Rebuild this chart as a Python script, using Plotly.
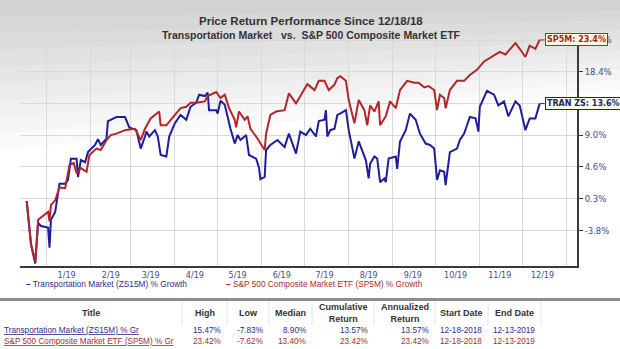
import math
from datetime import date
import plotly.graph_objects as go

W, H = 620, 349

# ---- series: % growth since 12/18/18 -------------------------------------
TRAN_DATES = [
    "2018-12-18", "2018-12-21", "2018-12-24", "2018-12-26", "2018-12-28",
    "2019-01-02", "2019-01-03", "2019-01-04", "2019-01-07", "2019-01-10",
    "2019-01-14", "2019-01-16", "2019-01-18", "2019-01-22", "2019-01-23",
    "2019-01-25", "2019-01-28", "2019-01-30", "2019-02-04", "2019-02-06",
    "2019-02-08", "2019-02-12", "2019-02-13", "2019-02-19", "2019-02-25",
    "2019-02-28", "2019-03-05", "2019-03-08", "2019-03-11", "2019-03-12",
    "2019-03-14", "2019-03-18", "2019-03-20", "2019-03-22", "2019-03-26",
    "2019-03-28", "2019-04-01", "2019-04-05", "2019-04-09", "2019-04-12",
    "2019-04-16", "2019-04-18", "2019-04-22", "2019-04-24", "2019-04-25",
    "2019-04-30", "2019-05-01", "2019-05-03", "2019-05-06", "2019-05-09",
    "2019-05-10", "2019-05-13", "2019-05-15", "2019-05-17", "2019-05-21",
    "2019-05-23", "2019-05-28", "2019-05-30", "2019-05-31", "2019-06-03",
    "2019-06-04", "2019-06-07", "2019-06-12", "2019-06-17", "2019-06-20",
    "2019-06-25", "2019-06-28", "2019-07-02", "2019-07-05", "2019-07-09",
    "2019-07-11", "2019-07-15", "2019-07-16", "2019-07-17", "2019-07-19",
    "2019-07-22", "2019-07-24", "2019-07-26", "2019-07-30", "2019-08-01",
    "2019-08-05", "2019-08-08", "2019-08-12", "2019-08-13", "2019-08-15",
    "2019-08-16", "2019-08-19", "2019-08-21", "2019-08-23", "2019-08-26",
    "2019-08-27", "2019-08-29", "2019-09-03", "2019-09-04", "2019-09-06",
    "2019-09-10", "2019-09-13", "2019-09-17", "2019-09-20", "2019-09-24",
    "2019-09-27", "2019-09-30", "2019-10-02", "2019-10-04", "2019-10-07",
    "2019-10-08", "2019-10-11", "2019-10-16", "2019-10-18", "2019-10-21",
    "2019-10-23", "2019-10-25", "2019-10-29", "2019-10-31", "2019-11-01",
    "2019-11-06", "2019-11-11", "2019-11-14", "2019-11-18", "2019-11-21",
    "2019-11-26", "2019-11-29", "2019-12-03", "2019-12-06", "2019-12-10",
    "2019-12-13",
]
TRAN_GROWTH = [
    0.0, -5.5, -7.83, -2.8, -3.2,
    -3.4, -5.9, -2.4, -1.4, 2.3,
    2.3, 2.8, 5.7, 5.7, 3.2,
    5.5, 5.2, 6.6, 7.6, 8.4,
    7.6, 8.5, 11.0, 11.6, 11.6,
    10.1, 9.7, 7.1, 8.8, 9.5,
    8.8, 9.7, 8.8, 6.2, 6.0,
    8.8, 10.7, 11.9, 11.2, 13.1,
    13.7, 14.9, 14.7, 15.2, 12.6,
    12.6, 12.1, 14.0, 13.4, 10.7,
    9.9, 7.8, 9.0, 8.3, 9.0,
    6.2, 5.7, 4.5, 2.9, 3.2,
    6.9, 7.6, 8.3, 7.3, 9.2,
    6.4, 9.5, 9.0, 9.9, 8.8,
    11.0, 11.2, 12.6, 8.8, 9.7,
    9.9, 11.9, 12.1, 12.6, 9.7,
    5.7, 8.1, 6.2, 5.5, 3.0,
    5.0, 6.0, 5.7, 2.5, 3.0,
    2.5, 5.7, 6.0, 4.3, 8.1,
    9.7, 12.1, 11.2, 9.2, 7.8,
    7.6, 7.1, 2.8, 4.1, 3.9,
    2.1, 6.6, 7.1, 8.3, 9.2,
    10.4, 11.6, 11.4, 9.5, 13.1,
    15.47, 14.9, 13.3, 13.9, 11.7,
    13.9, 13.3, 9.7, 11.4, 11.4,
    13.57,
]

SP5M_DATES = [
    "2018-12-18", "2018-12-21", "2018-12-24", "2018-12-26", "2019-01-02",
    "2019-01-03", "2019-01-04", "2019-01-07", "2019-01-10", "2019-01-14",
    "2019-01-17", "2019-01-20", "2019-01-22", "2019-01-25", "2019-01-29",
    "2019-01-31", "2019-02-05", "2019-02-08", "2019-02-12", "2019-02-15",
    "2019-02-19", "2019-02-25", "2019-02-28", "2019-03-04", "2019-03-08",
    "2019-03-11", "2019-03-15", "2019-03-21", "2019-03-22", "2019-03-26",
    "2019-04-01", "2019-04-05", "2019-04-09", "2019-04-12", "2019-04-16",
    "2019-04-22", "2019-04-24", "2019-04-29", "2019-04-30", "2019-05-03",
    "2019-05-06", "2019-05-09", "2019-05-13", "2019-05-14", "2019-05-16",
    "2019-05-20", "2019-05-22", "2019-05-24", "2019-05-28", "2019-06-03",
    "2019-06-04", "2019-06-07", "2019-06-11", "2019-06-17", "2019-06-20",
    "2019-06-25", "2019-06-28", "2019-07-03", "2019-07-08", "2019-07-11",
    "2019-07-15", "2019-07-18", "2019-07-22", "2019-07-24", "2019-07-26",
    "2019-07-30", "2019-08-01", "2019-08-05", "2019-08-08", "2019-08-12",
    "2019-08-14", "2019-08-16", "2019-08-19", "2019-08-22", "2019-08-23",
    "2019-08-27", "2019-08-30", "2019-09-03", "2019-09-06", "2019-09-11",
    "2019-09-16", "2019-09-19", "2019-09-23", "2019-09-26", "2019-09-30",
    "2019-10-02", "2019-10-04", "2019-10-07", "2019-10-08", "2019-10-11",
    "2019-10-16", "2019-10-21", "2019-10-25", "2019-10-30", "2019-11-04",
    "2019-11-08", "2019-11-15", "2019-11-19", "2019-11-22", "2019-11-26",
    "2019-11-29", "2019-12-03", "2019-12-06", "2019-12-10", "2019-12-13",
]
SP5M_GROWTH = [
    0.0, -5.4, -7.62, -2.4, -1.4,
    -2.6, -0.5, 0.1, 1.8, 1.7,
    4.8, 5.1, 3.7, 4.4, 3.9,
    6.2, 7.1, 6.9, 8.3, 9.0,
    9.2, 9.7, 9.8, 9.9, 8.3,
    9.9, 11.4, 12.4, 10.4, 10.4,
    11.9, 12.9, 13.1, 13.7, 13.7,
    13.9, 14.7, 15.3, 15.3, 14.4,
    14.9, 12.9, 11.2, 10.1, 12.4,
    11.2, 11.7, 9.9, 8.8, 6.9,
    9.2, 11.9, 12.4, 12.6, 15.1,
    13.6, 14.7, 16.5, 15.6, 17.0,
    17.0, 15.6, 16.4, 17.4, 17.7,
    17.0, 14.1, 10.7, 14.1, 12.6,
    10.4, 13.3, 12.4, 13.9, 10.4,
    11.7, 13.9, 12.9, 15.6, 17.0,
    16.7, 16.7, 16.0, 16.2, 15.6,
    12.6, 14.9, 14.4, 12.9, 15.6,
    17.0, 17.0, 17.9, 18.7, 20.0,
    20.5, 21.5, 21.1, 21.9, 22.9,
    22.0, 20.7, 22.5, 22.0, 23.42,
]

# ---- axis labels ------------------------------------------------------------
Y_TICK_LABELS = ["-3.8%", "0.3%", "4.6%", "9.0%", "13.6%", "18.4%", "23.4%"]
MONTH_LABELS = ["1/19", "2/19", "3/19", "4/19", "5/19", "6/19",
                "7/19", "8/19", "9/19", "10/19", "11/19", "12/19"]

TITLE_LINE1 = "Price Return Performance Since 12/18/18"
TITLE_LINE2 = "Transportation Market \u00a0\u00a0vs. \u00a0S&P 500 Composite Market ETF"
LEGEND_TEXT = ["Transportation Market (ZS15M) % Growth",
               "S&P 500 Composite Market ETF (SP5M) % Growth"]
END_TAGS = ["TRAN ZS", "SP5M"]

# ---- summary table ------------------------------------------------------------
TABLE_HEADERS = ["Title", "High", "Low", "Median", "Cumulative<br>Return",
                 "Annualized<br>Return", "Start Date", "End Date"]
TABLE_TITLES = ["Transportation Market (ZS15M) % Gr",
                "S&P 500 Composite Market ETF (SP5M) % Gr"]
TABLE_MEDIAN = ["8.90%", "13.40%"]
TABLE_ANNUALIZED = ["13.57%", "23.42%"]
TABLE_START = ["12-18-2018", "12-18-2018"]
TABLE_END = ["12-13-2019", "12-13-2019"]

BLUE = "#1e1e9a"
RED = "#b2262a"
BLUE_TXT = "#2e2e8a"
RED_TXT = "#a3302c"
GRID = "#d9d9d9"
AXIS = "#3a3a3a"
TICK_TXT = "#484c7c"

# plot box in pixels
PL, PR, PT, PB = 20, 577, 36, 266


def fx(px):
    return px / W


def fy(py):
    return 1 - py / H


def idx(g):
    return 1 + g / 100.0


fig = go.Figure()
fig.add_trace(go.Scatter(
    x=TRAN_DATES, y=[idx(g) for g in TRAN_GROWTH], mode="lines",
    line=dict(color=BLUE, width=2), name=LEGEND_TEXT[0]))
fig.add_trace(go.Scatter(
    x=SP5M_DATES, y=[idx(g) for g in SP5M_GROWTH], mode="lines",
    line=dict(color=RED, width=2), name=LEGEND_TEXT[1]))

month_starts = [date(2019, m, 1) for m in range(1, 13)] + [date(2020, 1, 1)]
mid_months = [date(2019, m, 15) for m in range(1, 13)]
y_ticks = [idx(float(t.rstrip("%"))) for t in Y_TICK_LABELS]

shapes = []
# soft grey wash fading down from the top edge
n_layers = 9
for k in range(1, n_layers + 1):
    yl, yr = 150 * k / n_layers, 90 * k / n_layers
    shapes.append(dict(
        type="path", xref="paper", yref="paper", layer="below",
        path=f"M 0 1 L 1 1 L 1 {fy(yr):.4f} L 0 {fy(yl):.4f} Z",
        fillcolor="rgba(0,0,0,0.018)", line=dict(width=0)))

annotations = []
# title
annotations.append(dict(text=f"<b>{TITLE_LINE1}</b>", x=fx(311), y=fy(13),
                        xref="paper", yref="paper", showarrow=False,
                        font=dict(family="Liberation Sans", size=11.5, color="#333")))
annotations.append(dict(text=f"<b>{TITLE_LINE2}</b>", x=fx(312), y=fy(27.5),
                        xref="paper", yref="paper", showarrow=False,
                        font=dict(family="Liberation Sans", size=10.5, color="#333")))

# end-of-series value tags
for name, dates, growth, color, txt in [
        (END_TAGS[0], TRAN_DATES, TRAN_GROWTH, BLUE, "#23236e"),
        (END_TAGS[1], SP5M_DATES, SP5M_GROWTH, RED, "#9c1f1f")]:
    annotations.append(dict(
        x=dates[-1], y=math.log10(idx(growth[-1])), xref="x", yref="y",
        text=f"<b>{name}: {growth[-1]:.1f}%</b>", showarrow=True,
        arrowhead=0, arrowwidth=1, arrowcolor=color, ax=5, ay=0,
        xanchor="left", yanchor="middle",
        bgcolor="#fffbe6", bordercolor=color, borderwidth=1, borderpad=1,
        font=dict(family="DejaVu Sans", size=8, color=txt)))

# legend row
for text, color, txt, x0 in [(LEGEND_TEXT[0], BLUE, BLUE_TXT, 24),
                             (LEGEND_TEXT[1], RED, RED_TXT, 224)]:
    annotations.append(dict(
        text=f"<span style='color:{color}'><b>\u2013</b></span> {text}",
        x=fx(x0), y=fy(284), xref="paper", yref="paper", showarrow=False,
        xanchor="left", yanchor="middle",
        font=dict(family="Liberation Sans", size=8.3, color=txt)))

# summary table
col_edges = [0, 182, 227, 269, 312, 374, 435, 488, 541]
shapes.append(dict(type="line", xref="paper", yref="paper",
                   x0=0, x1=1, y0=fy(299.5), y1=fy(299.5),
                   line=dict(color="#8c8c8c", width=3)))
for e in col_edges[1:]:
    shapes.append(dict(type="line", xref="paper", yref="paper",
                       x0=fx(e), x1=fx(e), y0=fy(301), y1=fy(325),
                       line=dict(color="#e3e3e3", width=1)))
for i, head in enumerate(TABLE_HEADERS):
    cx = (col_edges[i] + col_edges[i + 1]) / 2
    annotations.append(dict(
        text=f"<b>{head}</b>", x=fx(cx), y=fy(312.5), xref="paper", yref="paper",
        showarrow=False, xanchor="center", yanchor="middle",
        font=dict(family="Liberation Sans", size=9, color="#333")))

series = [TRAN_GROWTH, SP5M_GROWTH]
row_y = [330.7, 341.7]
row_col = [BLUE_TXT, RED_TXT]
for r in range(2):
    g = series[r]
    cells = [f"{max(g):.2f}%", f"{min(g):.2f}%", TABLE_MEDIAN[r],
             f"{g[-1]:.2f}%", TABLE_ANNUALIZED[r], TABLE_START[r], TABLE_END[r]]
    annotations.append(dict(
        text=f"<u>{TABLE_TITLES[r]}</u>", x=fx(2), y=fy(row_y[r]),
        xref="paper", yref="paper", showarrow=False, xanchor="left",
        yanchor="middle",
        font=dict(family="Liberation Sans", size=8.2, color=row_col[r])))
    for c, val in enumerate(cells):
        annotations.append(dict(
            text=val, x=fx(col_edges[c + 2] - 4), y=fy(row_y[r]),
            xref="paper", yref="paper", showarrow=False, xanchor="right",
            yanchor="middle",
            font=dict(family="Liberation Sans", size=8.2, color=row_col[r])))

fig.update_layout(
    width=W, height=H, margin=dict(l=0, r=0, t=0, b=0),
    paper_bgcolor="white", plot_bgcolor="rgba(0,0,0,0)",
    showlegend=False,
    xaxis=dict(
        domain=[fx(PL), fx(PR)], type="date",
        range=["2018-12-13 07:00", "2020-01-08 05:00"],
        tickmode="array", tickvals=mid_months, ticktext=MONTH_LABELS,
        showgrid=False, ticks="", zeroline=False,
        showline=True, linecolor=AXIS, linewidth=2,
        tickfont=dict(family="DejaVu Sans", size=8, color=TICK_TXT),
        minor=dict(tickmode="array", tickvals=month_starts, showgrid=True,
                   gridcolor=GRID, gridwidth=1, ticks=""),
    ),
    yaxis=dict(
        domain=[fy(PB), fy(PT)], type="log", range=[-0.0368, 0.0936],
        side="right", tickmode="array", tickvals=y_ticks, ticktext=Y_TICK_LABELS,
        showgrid=True, gridcolor=GRID, gridwidth=1, zeroline=False,
        showline=True, linecolor=AXIS, linewidth=2,
        ticks="outside", ticklen=4, tickcolor=AXIS, tickwidth=1,
        tickfont=dict(family="DejaVu Sans", size=8.5, color=TICK_TXT),
    ),
    shapes=shapes,
    annotations=annotations,
)

fig.write_html("out.html")
